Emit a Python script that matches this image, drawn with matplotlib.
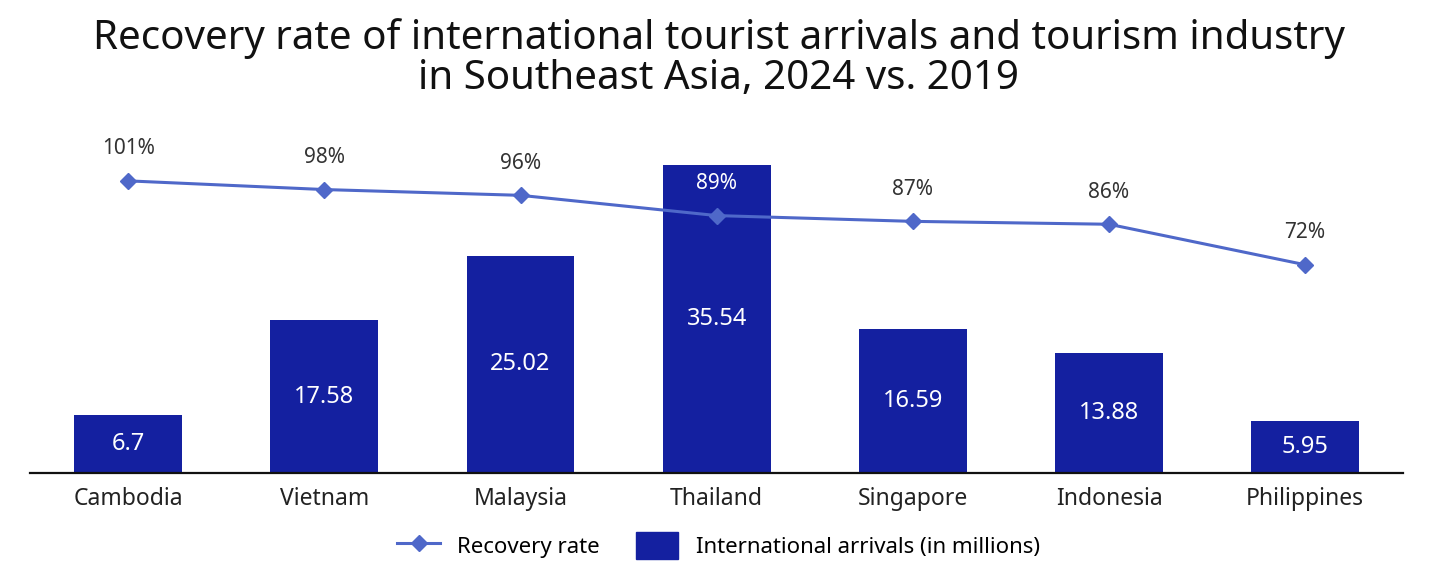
import matplotlib
matplotlib.use('Agg')
import matplotlib.pyplot as plt
from matplotlib.lines import Line2D
from matplotlib.patches import Patch

plt.rcParams['font.family'] = ['Noto Sans', 'DejaVu Sans']

# Data
countries = ['Cambodia', 'Vietnam', 'Malaysia', 'Thailand', 'Singapore', 'Indonesia', 'Philippines']
arrivals = [6.7, 17.58, 25.02, 35.54, 16.59, 13.88, 5.95]
recovery = [101, 98, 96, 89, 87, 86, 72]

BAR_COLOR = '#1420a0'
LINE_COLOR = '#4f68c9'

fig = plt.figure(figsize=(14.37, 5.68), dpi=100)
ax = fig.add_axes([0.021, 0.1673, 0.9555, 0.611])
ax2 = ax.twinx()

x = list(range(len(countries)))
bars = ax.bar(x, arrivals, width=0.55, color=BAR_COLOR, zorder=2)
for xi, v in zip(x, arrivals):
    ax.text(xi, v / 2, f'{v:g}', ha='center', va='center', color='white', fontsize=17)

ax2.plot(x, recovery, color=LINE_COLOR, lw=2.2, marker='D', markersize=8, zorder=3)
for xi, r, v in zip(x, recovery, arrivals):
    # label is white where it falls on a bar
    col = 'white' if v / 40 * 120 > r + 8 else '#333333'
    ax2.annotate(f'{r}%', (xi, r), xytext=(0, 23), textcoords='offset points',
                 ha='center', va='center', fontsize=15, color=col)

ax.set_xlim(-0.5, len(countries) - 0.5)
ax.set_ylim(0, 40)
ax2.set_ylim(0, 120)
ax.set_zorder(1)
ax2.set_zorder(2)
ax2.patch.set_visible(False)

ax.set_xticks(x)
ax.set_xticklabels(countries, fontsize=16.5, color='#222222')
ax.tick_params(axis='x', length=0, pad=10)
ax.set_yticks([])
ax2.set_yticks([])
for a in (ax, ax2):
    for s in ('top', 'right', 'left', 'bottom'):
        a.spines[s].set_visible(False)
ax.spines['bottom'].set_visible(True)
ax.spines['bottom'].set_linewidth(1.6)
ax.spines['bottom'].set_color('#111111')

fig.suptitle('Recovery rate of international tourist arrivals and tourism industry\nin Southeast Asia, 2024 vs. 2019',
             x=0.5, y=0.968, fontsize=29, linespacing=1.0, color='#111111')

handles = [Line2D([0], [0], color=LINE_COLOR, lw=2.2, marker='D', markersize=8),
           Patch(color=BAR_COLOR)]
fig.legend(handles, ['Recovery rate', 'International arrivals (in millions)'],
           loc='lower center', bbox_to_anchor=(0.5, -0.02), ncol=2, frameon=False,
           fontsize=16, handlelength=1.9, handleheight=1.5, columnspacing=1.6)

fig.savefig('out.png', dpi=100)
